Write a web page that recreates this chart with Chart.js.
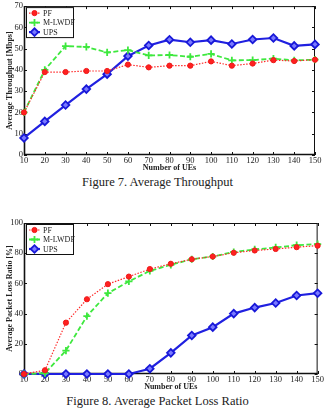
<!DOCTYPE html>
<html>
<head>
<meta charset="utf-8">
<script src="https://cdn.jsdelivr.net/npm/chart.js@4.4.0/dist/chart.umd.min.js"></script>
<style>
  body { margin: 0; background: #fff; width: 325px; height: 414px; position: relative; overflow: hidden; }
  .box { position: absolute; left: 0; width: 325px; }
  .cap { position: absolute; left: 0; width: 315px; text-align: center; font-family: 'Liberation Serif', serif; font-size: 12.5px; color: #222; }
</style>
</head>
<body>
<div class="box" style="top:0;height:175px"><canvas id="thr"></canvas></div>
<div class="cap" style="top:175px">Figure 7. Average Throughput</div>
<div class="box" style="top:214px;height:178px"><canvas id="plr"></canvas></div>
<div class="cap" style="top:394px">Figure 8. Average Packet Loss Ratio</div>
<script>
const ues = [10,20,30,40,50,60,70,80,90,100,110,120,130,140,150];

// Figure 7 - throughput [Mbps]
const thr_pf    = [20,39,39,39.5,39.5,42.5,41.2,42,42,44,42,43,44.6,44.2,44.8];
const thr_mlwdf = [20,40,51.2,50.8,48.2,49.3,46.8,47,46.2,47.5,44.5,44.6,45.3,44.5,44.8];
const thr_ups   = [8,15.8,23.5,31,38,46.5,51.5,54.2,53,54,52.2,54.3,55,51.3,52];

// Figure 8 - packet loss ratio [%]
const plr_pf    = [0,2.5,34,49.5,59.5,64.5,69.5,73,76,77.8,80.3,81.8,82.8,84,85];
const plr_mlwdf = [0,0.5,15.5,38.3,53.5,61.3,68.3,72.3,76,77.8,80.8,82.5,83.8,85.3,86];
const plr_ups   = [0,0,0,0,0,0,3.5,14,25.5,31,40,44,47,52,53.5];

const labels = ['PF','M-LWDF','UPS'];
const serif = "'Liberation Serif', serif";

// box round the plot with inward ticks, MATLAB style
const frame = {
  id: 'frame',
  beforeDatasetsDraw(chart) {
    const {ctx, chartArea: a, scales: {x, y}} = chart;
    ctx.save();
    ctx.strokeStyle = '#111';
    ctx.lineWidth = 1;
    ctx.strokeRect(a.left + 0.5, a.top + 0.5, a.width - 1, a.height - 1);
    // left and bottom edges a bit heavier
    ctx.lineWidth = 1.6;
    ctx.beginPath();
    ctx.moveTo(a.left + 0.5, a.top);
    ctx.lineTo(a.left + 0.5, a.bottom - 0.5);
    ctx.lineTo(a.right, a.bottom - 0.5);
    ctx.stroke();
    ctx.lineWidth = 1;
    ctx.beginPath();
    x.ticks.forEach(t => {
      const px = Math.round(x.getPixelForValue(t.value)) + 0.5;
      ctx.moveTo(px, a.bottom); ctx.lineTo(px, a.bottom - 3);
      ctx.moveTo(px, a.top); ctx.lineTo(px, a.top + 3);
    });
    y.ticks.forEach(t => {
      const py = Math.round(y.getPixelForValue(t.value)) + 0.5;
      ctx.moveTo(a.left, py); ctx.lineTo(a.left + 3, py);
      ctx.moveTo(a.right, py); ctx.lineTo(a.right - 3, py);
    });
    ctx.stroke();
    ctx.restore();
  }
};

// legend box in the top left corner of the plot
const boxLegend = {
  id: 'boxLegend',
  afterDraw(chart) {
    const {ctx, chartArea: a} = chart;
    const bx = a.left + 2, by = a.top + 1, bw = 47, bh = 30;
    ctx.save();
    ctx.fillStyle = '#fff';
    ctx.fillRect(bx, by, bw, bh);
    ctx.strokeStyle = '#111';
    ctx.lineWidth = 1;
    ctx.strokeRect(bx + 0.5, by + 0.5, bw, bh);
    chart.data.datasets.forEach((ds, i) => {
      const ry = by + 6 + i * 9.5;
      ctx.strokeStyle = ds.borderColor;
      ctx.lineWidth = ds.borderWidth;
      ctx.setLineDash(ds.borderDash || []);
      ctx.beginPath();
      ctx.moveTo(bx + 3, ry); ctx.lineTo(bx + 14, ry);
      ctx.stroke();
      ctx.setLineDash([]);
      ctx.fillStyle = ds.pointBackgroundColor;
      ctx.strokeStyle = ds.pointBorderColor;
      ctx.lineWidth = ds.pointBorderWidth;
      Chart.helpers.drawPoint(ctx, {pointStyle: ds.pointStyle, radius: ds.pointRadius, borderWidth: ds.pointBorderWidth, rotation: 0}, bx + 8.5, ry);
      ctx.fillStyle = '#222';
      ctx.font = '8px ' + serif;
      ctx.textBaseline = 'middle';
      ctx.fillText(ds.label, bx + 17, ry + 0.5);
    });
    ctx.restore();
  }
};

function sets(pf, mlwdf, ups) {
  return [
    { label: labels[0], data: ues.map((u, i) => ({x: u, y: pf[i]})),
      borderColor: '#ff2a2a', borderWidth: 1.2, borderDash: [1.5, 1.5],
      pointStyle: 'circle', pointRadius: 2.6, pointBorderWidth: 1,
      pointBackgroundColor: '#ff2020', pointBorderColor: '#ee1a1a' },
    { label: labels[1], data: ues.map((u, i) => ({x: u, y: mlwdf[i]})),
      borderColor: '#3ee83e', borderWidth: 1.8, borderDash: [5, 2.5],
      pointStyle: 'cross', pointRadius: 3.6, pointBorderWidth: 1.8,
      pointBackgroundColor: '#3ee83e', pointBorderColor: '#3ee83e' },
    { label: labels[2], data: ues.map((u, i) => ({x: u, y: ups[i]})),
      borderColor: '#2020e0', borderWidth: 2.2,
      pointStyle: 'rectRot', pointRadius: 3.8, pointBorderWidth: 1.8,
      pointBackgroundColor: '#7a7aff', pointBorderColor: '#1818d8' }
  ];
}

function makeChart(el, ds, ymax, ystep, ytitle, pad, xh, xtpad) {
  return new Chart(el, {
    type: 'line',
    data: { datasets: ds },
    plugins: [frame, boxLegend],
    options: {
      responsive: true,
      maintainAspectRatio: false,
      animation: false,
      clip: false,
      elements: { line: { tension: 0 } },
      layout: { padding: pad },
      plugins: { legend: { display: false }, tooltip: { enabled: false } },
      scales: {
        x: {
          type: 'linear', min: 10, max: 150,
          ticks: { stepSize: 10, padding: 1, color: '#222', font: { family: serif, size: 8.5 } },
          grid: { display: false, drawTicks: false },
          border: { display: false },
          title: { display: true, text: 'Number of UEs', color: '#222', padding: { top: 0, bottom: xtpad },
                   font: { family: serif, size: 8, weight: 'bold' } },
          afterFit(s) { s.height = xh; }
        },
        y: {
          min: 0, max: ymax,
          ticks: { stepSize: ystep, padding: 1, color: '#222', font: { family: serif, size: 8.5 } },
          grid: { display: false, drawTicks: false },
          border: { display: false },
          title: { display: true, text: ytitle, color: '#222', padding: { top: 5, bottom: 0 },
                   font: { family: serif, size: 8, weight: 'bold' } },
          afterFit(s) { s.width = 24; }
        }
      }
    }
  });
}

makeChart(document.getElementById('thr'), sets(thr_pf, thr_mlwdf, thr_ups), 70, 10,
  'Average Throughput [Mbps]', { top: 6, right: 10, left: 0, bottom: 0 }, 20, 2);
makeChart(document.getElementById('plr'), sets(plr_pf, plr_mlwdf, plr_ups), 100, 20,
  'Average Packet Loss Ratio [%]', { top: 9, right: 6, left: 0, bottom: 0 }, 18, 0);
</script>
</body>
</html>
